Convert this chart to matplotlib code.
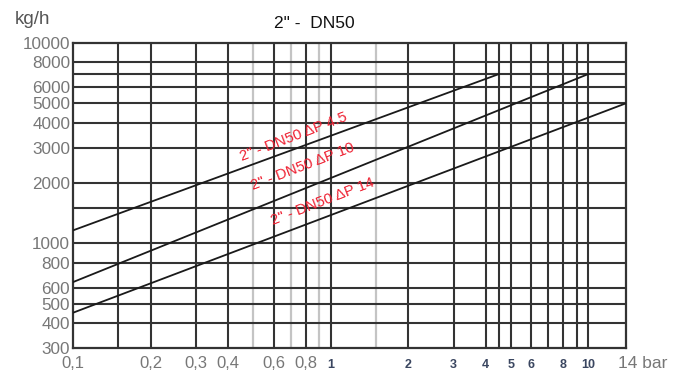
import matplotlib.pyplot as plt

plt.rcParams['font.family'] = ['Liberation Sans', 'DejaVu Sans']

# flow curves (pressure in bar, flow in kg/h)
p_45 = [0.1, 4.5]
q_45 = [1160, 7000]
p_10 = [0.1, 10]
q_10 = [640, 7000]
p_14 = [0.1, 14]
q_14 = [450, 5000]

curve_labels = ['2" - DN50 ΔP 4.5', '2" - DN50 ΔP 10', '2" - DN50 ΔP 14']
label_pos = [(0.72, 3400), (0.78, 2420), (0.93, 1620)]

# grid of the printed chart
x_dark = [0.15, 0.2, 0.3, 0.4, 0.6, 0.8, 1, 2, 3, 4, 4.5, 5, 6, 7, 8, 9, 10]
x_light = [0.5, 0.7, 0.9, 1.5]
y_lines = [400, 500, 600, 800, 1000, 1500, 2000, 3000, 4000, 5000, 6000, 7000, 8000]

x_ticks_small = [0.1, 0.2, 0.3, 0.4, 0.6, 0.8]
x_labels_small = ["0,1", "0,2", "0,3", "0,4", "0,6", "0,8"]
x_ticks_big = [1, 2, 3, 4, 5, 6, 8, 10]
x_labels_big = ["1", "2", "3", "4", "5", "6", "8", "10"]
y_ticks = [300, 400, 500, 600, 800, 1000, 2000, 3000, 4000, 5000, 6000, 8000, 10000]
y_labels = [str(v) for v in y_ticks]

fig = plt.figure(figsize=(6.83, 3.74), dpi=100)
ax = fig.add_axes([73 / 683, 1 - 348 / 374, 553 / 683, 305 / 374])
ax.set_xscale('log')
ax.set_yscale('log')
ax.set_xlim(0.1, 14)
ax.set_ylim(300, 10000)

for x in x_light:
    ax.axvline(x, color='#c4c4c4', lw=1.6, zorder=1)
for x in x_dark:
    ax.axvline(x, color='#333333', lw=1.5, zorder=1)
for y in y_lines:
    ax.axhline(y, color='#333333', lw=1.5, zorder=1)

for p, q in [(p_45, q_45), (p_10, q_10), (p_14, q_14)]:
    ax.plot(p, q, color='#1a1a1a', lw=1.3, zorder=3)

for txt, (x, y) in zip(curve_labels, label_pos):
    ax.text(x, y, txt, color='#ee2233', fontsize=10.8, rotation=21,
            ha='center', va='center', rotation_mode='anchor', zorder=4)

for s in ax.spines.values():
    s.set_color('#333333')
    s.set_linewidth(1.6)

ax.minorticks_off()
ax.tick_params(length=0, pad=6)
ax.set_xticks(x_ticks_small + x_ticks_big)
ax.set_xticklabels(x_labels_small + x_labels_big)
for lab in ax.get_xticklabels()[:len(x_ticks_small)]:
    lab.set_fontsize(12)
    lab.set_color('#777777')
for lab in ax.get_xticklabels()[len(x_ticks_small):]:
    lab.set_fontsize(9)
    lab.set_fontweight('bold')
    lab.set_color('#3a4660')
    lab.set_y(-0.01)

ax.set_yticks(y_ticks)
ax.set_yticklabels(y_labels, fontsize=12.3, color='#777777')
ax.tick_params(axis='y', pad=2)

ax.annotate("14 bar", xy=(14, 0), xycoords=('data', 'axes fraction'),
            xytext=(-6, -11), textcoords='offset points',
            ha='left', va='center', fontsize=12.5, color='#777777')

fig.text(15 / 683, 1 - 19 / 374, "kg/h", fontsize=13.5, color='#555555', va='center')
fig.text(314 / 683, 1 - 23 / 374, '2" -  DN50', fontsize=12.5, color='#111111',
         ha='center', va='center')

fig.savefig("out.png", dpi=100)
